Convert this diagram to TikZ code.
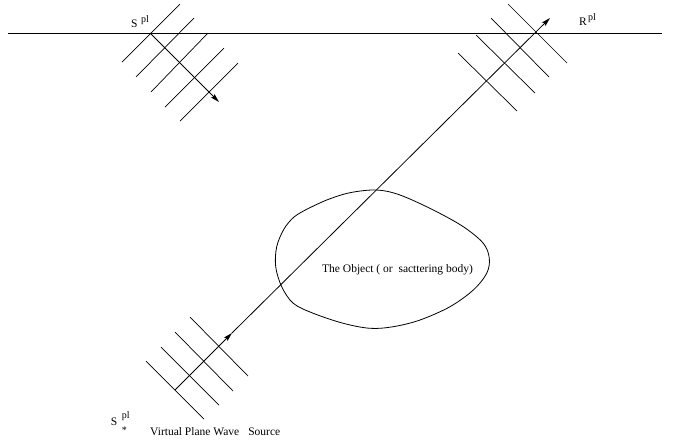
\documentclass[tikz,border=0pt]{standalone}
\usepackage{fontspec}
\setmainfont{Liberation Serif}
\usetikzlibrary{arrows.meta}
\begin{document}
\begin{tikzpicture}[x=1pt,y=-1pt,
  wave/.style={line width=0.7pt},
  ray/.style={line width=0.8pt,-{Stealth[length=9pt,width=5pt,inset=2pt]}},
  lbl/.style={inner sep=0pt,anchor=base west,font=\fontsize{11.5}{13}\selectfont},
  suplbl/.style={inner sep=0pt,anchor=base west,font=\fontsize{10}{12}\selectfont}]
\useasboundingbox (0,0) rectangle (675,440);
% surface line
\coordinate (hl) at (8,33);
\coordinate (hr) at (662,33);
\draw[line width=0.9pt] (hl) -- (hr);
% top-left plane wave
\foreach \a/\b/\c/\d in {122/62/180/4, 136/77/194/18, 151/92/208/33, 165/107/224/48, 180/121/238/63}
  \draw[wave] (\a,\b) -- (\c,\d);
\coordinate (s0) at (150,33);
\coordinate (s1) at (219,102);
\draw[ray] (s0) -- (s1);
% top-right plane wave
\foreach \a/\b/\c/\d in {508/4/567/63, 491/18/549/77, 476/35/535/93, 458/53/517/111}
  \draw[wave] (\a,\b) -- (\c,\d);
% bottom-left plane wave
\foreach \a/\b/\c/\d in {190/317/248/376, 175/332/233/391, 161/347/219/405, 146/361/204/419}
  \draw[wave] (\a,\b) -- (\c,\d);
% main ray
\coordinate (v0) at (175,390);
\coordinate (v1) at (232,333);
\coordinate (r0) at (550,18);
\draw[ray] (v0) -- (v1);
\draw[ray] (v1) -- (r0);
% the object
\draw[line width=0.8pt] plot[smooth, tension=0.55] coordinates {
 (306.7,209.3) (326.7,200) (350,192.7) (376.7,190) (400,195) (433.3,210)
 (463.3,226.7) (483.3,243.3) (489.3,258.3) (486.7,273.3) (473.3,290)
 (450,306.7) (420,320) (393.3,326.7) (370,328.3) (343.3,323.3)
 (313.3,313.3) (293.3,303.3) (281.7,286.7) (275.7,266.7) (276.7,246.7)
 (284,229) (294,217) (306.7,209.3)};
\node[lbl] (objtxt) at (322,272) {The Object ( or \ sacttering body)};
% labels
\node[lbl] (sS) at (131,27.3) {S};
\node[suplbl] (sSp) at (141,22.8) {pl};
\node[lbl] (rR) at (579,25) {R};
\node[suplbl] (rRp) at (588,20.5) {pl};
\node[lbl] (vS) at (110.7,425) {S};
\node[suplbl] (vSp) at (121.7,418.5) {pl};
\node[suplbl] (vSs) at (121.7,433.7) {*};
\node[lbl] (vtxt) at (150,435.5) {Virtual Plane Wave\hspace{9pt}Source};
\end{tikzpicture}
\end{document}
